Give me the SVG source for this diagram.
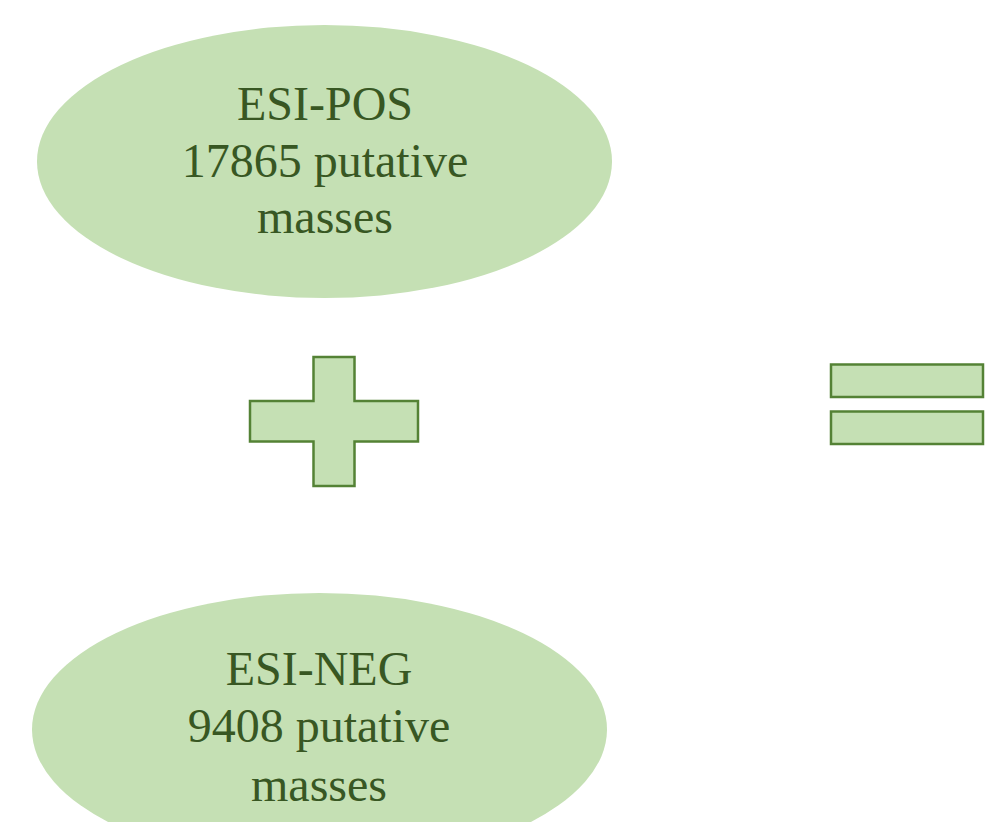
<svg xmlns="http://www.w3.org/2000/svg" width="991" height="822" viewBox="0 0 991 822">
<style>
.sh{fill:#C5E0B4;}
.op{fill:#C5E0B4;stroke:#548235;stroke-width:2.5;}
.t{font-family:"Liberation Serif","Times New Roman",serif;font-size:48px;fill:#385723;text-anchor:middle;}
</style>
<rect width="991" height="822" fill="#ffffff"/>
<g id="esi-pos">
<ellipse class="sh" cx="324.5" cy="161.5" rx="287.5" ry="136.5"/>
<text class="t" x="325" y="120">ESI-POS</text>
<text class="t" x="325" y="177">17865 putative</text>
<text class="t" x="325" y="233">masses</text>
</g>
<g id="esi-neg">
<ellipse class="sh" cx="319.5" cy="729.5" rx="287.5" ry="136.5"/>
<text class="t" x="319" y="685">ESI-NEG</text>
<text class="t" x="319" y="742">9408 putative</text>
<text class="t" x="319" y="801">masses</text>
</g>
<g id="plus">
<path class="op" d="M313.5,357 H354.5 V401 H418 V441.5 H354.5 V486 H313.5 V441.5 H250 V401 H313.5 Z"/>
</g>
<g id="equals">
<rect class="op" x="831" y="364.5" width="152" height="32.5"/>
<rect class="op" x="831" y="411.5" width="152" height="32.5"/>
</g>
<g id="connectors"/>
</svg>
